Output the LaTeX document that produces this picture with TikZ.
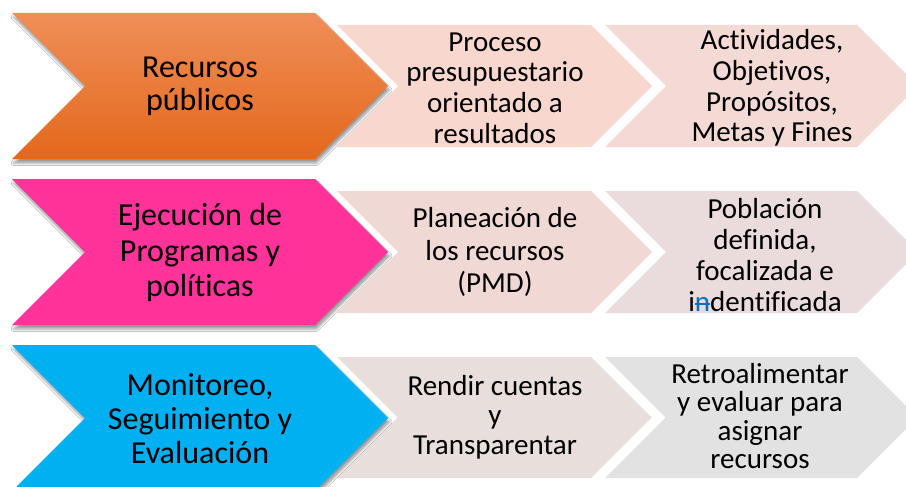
\documentclass[tikz,border=0pt]{standalone}
\usepackage{fontspec}
\setmainfont{Carlito}[Ligatures={NoCommon,NoContextual}, Contextuals=NoAlternate]
\usetikzlibrary{shadows.blur}
\definecolor{orTop}{RGB}{240,142,88}
\definecolor{orMid}{RGB}{242,120,38}
\definecolor{orBot}{RGB}{228,104,28}
\definecolor{mainpink}{RGB}{255,51,153}
\definecolor{mainblue}{RGB}{0,176,240}
\definecolor{lightA}{RGB}{248,216,206}
\definecolor{lightB}{RGB}{243,218,212}
\definecolor{lightC}{RGB}{240,217,213}
\definecolor{lightD}{RGB}{234,219,220}
\definecolor{lightE}{RGB}{232,222,220}
\definecolor{lightF}{RGB}{226,226,226}
\definecolor{delblue}{RGB}{0,112,192}
\newcommand\chevron[5]{%
  \path[#1] (#2,#4) -- (#3,#4) -- ({#3+(#5-#4)/2},{(#4+#5)/2}) -- (#3,#5) -- (#2,#5) -- ({#2+(#5-#4)/2},{(#4+#5)/2}) -- cycle;}
\newcommand\delch[1]{{\color{delblue}\setbox0=\hbox{#1}\rlap{\rule[0.23em]{\wd0}{1.3pt}}\box0}}
\tikzset{
  mainshape/.style={blur shadow={shadow xshift=1.5pt, shadow yshift=-4pt, shadow blur radius=2.5pt, shadow opacity=40}},
  maintext/.style={align=center, inner sep=0pt, text=black, font=\fontsize{32}{#1}\selectfont},
  sidetext/.style={align=center, inner sep=0pt, text=black, font=\fontsize{29}{#1}\selectfont}
}
\begin{document}
\begin{tikzpicture}[x=1pt,y=-1pt]
\useasboundingbox (0,0) rectangle (906,487);
\clip (0,0) rectangle (906,487);
\fill[white] (0,0) rectangle (906,487);
% row 1
\chevron{fill=lightA}{337}{591}{25}{147}
\chevron{fill=lightB}{605}{857}{25}{147}
\chevron{mainshape, top color=orTop, middle color=orMid, bottom color=orBot}{12}{315}{13}{159}
% row 2
\chevron{fill=lightC}{337}{591}{191}{313}
\chevron{fill=lightD}{605}{857}{191}{313}
\chevron{mainshape, fill=mainpink}{12}{315}{179}{325}
% row 3
\chevron{fill=lightE}{337}{591}{357}{478}
\chevron{fill=lightF}{605}{857}{357}{478}
\chevron{mainshape, fill=mainblue}{12}{315}{345}{491}
% texts
\node[maintext=33] (t11) at (200,86.5) {Recursos\\públicos};
\node[sidetext=30.7] (t12) at (495,88) {Proceso\\presupuestario\\orientado a\\resultados};
\node[sidetext=30.7] (t13) at (772,88) {Actividades,\\Objetivos,\\Propósitos,\\Metas y Fines};
\node[maintext=35.5] (t21) at (200,252.5) {Ejecución de\\Programas y\\políticas};
\node[sidetext=32.5] (t22) at (495,252) {Planeación de\\los recursos\\(PMD)};
\node[sidetext=31] (t23) at (765,255) {Población\\definida,\\focalizada e\\i\delch{n}dentificada};
\node[maintext=34] (t31) at (200,419) {Monitoreo,\\Seguimiento y\\Evaluación};
\node[sidetext=29.5] (t32) at (495,417) {Rendir cuentas\\y\\Transparentar};
\node[sidetext=28.5] (t33) at (760,416) {Retroalimentar\\y evaluar para\\asignar\\recursos};
\end{tikzpicture}
\end{document}
